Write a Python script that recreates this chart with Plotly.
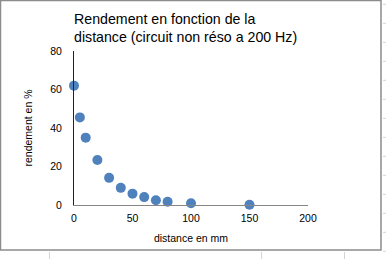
import plotly.graph_objects as go

# Data
distance_mm = [0, 5, 10, 20, 30, 40, 50, 60, 70, 80, 100, 150]
rendement_pct = [62, 45.5, 35, 23.4, 14.1, 8.9, 5.9, 4.1, 2.5, 1.7, 0.9, 0.1]
x_ticks = [0, 50, 100, 150, 200]
y_ticks = [0, 20, 40, 60, 80]

W, H = 386, 259
L, R, T, B = 74, 78, 51, 54
PW, PH = W - L - R, H - T - B

def px(x):
    return (x - L) / PW

def py(y):
    return (H - B - y) / PH

FONT = "Liberation Sans, Arial, sans-serif"

fig = go.Figure()
fig.add_trace(go.Scatter(
    x=distance_mm, y=rendement_pct, mode="markers",
    marker=dict(size=10, color="#4F81BD", line=dict(width=0)),
    cliponaxis=False, showlegend=False,
))

shapes = []
# chart frame
shapes.append(dict(type="rect", xref="paper", yref="paper",
                   x0=px(0.5), x1=px(381), y0=py(0.5), y1=py(250),
                   line=dict(color="#8c8c8c", width=1.5), layer="below"))
# spreadsheet grid stubs outside the frame
for k in range(14):
    yy = 4.3 + 19 * k
    shapes.append(dict(type="line", xref="paper", yref="paper",
                       x0=px(383), x1=px(386), y0=py(yy), y1=py(yy),
                       line=dict(color="#d4d4d4", width=1)))
for xx in [49.5, 261.5, 344.5]:
    shapes.append(dict(type="line", xref="paper", yref="paper",
                       x0=px(xx), x1=px(xx), y0=py(252), y1=py(259),
                       line=dict(color="#d4d4d4", width=1)))

fig.update_layout(
    width=W, height=H,
    margin=dict(l=L, r=R, t=T, b=B, pad=0),
    paper_bgcolor="white", plot_bgcolor="white",
    font=dict(family=FONT, size=10.5, color="black"),
    title=dict(
        text="Rendement en fonction de la<br>distance (circuit non réso a 200 Hz)",
        x=px(74), xanchor="left", xref="paper",
        y=1 - 24 / H, yanchor="top", yref="container",
        font=dict(family=FONT, size=14.2, color="black"),
    ),
    xaxis=dict(
        range=[0, 200], tickvals=x_ticks, ticks="", showgrid=False,
        zeroline=False, showline=True, linecolor="#868686", linewidth=1,
        ticklabelstandoff=3,
        title=dict(text="distance en mm", font=dict(size=10.5), standoff=12),
    ),
    yaxis=dict(
        range=[0, 80], tickvals=y_ticks, ticks="", showgrid=False,
        zeroline=False, showline=True, linecolor="#222222", linewidth=1,
        ticklabelstandoff=9,
        title=dict(text="rendement en %", font=dict(size=10.5), standoff=15),
    ),
    shapes=shapes,
)

fig.write_html("out.html")
